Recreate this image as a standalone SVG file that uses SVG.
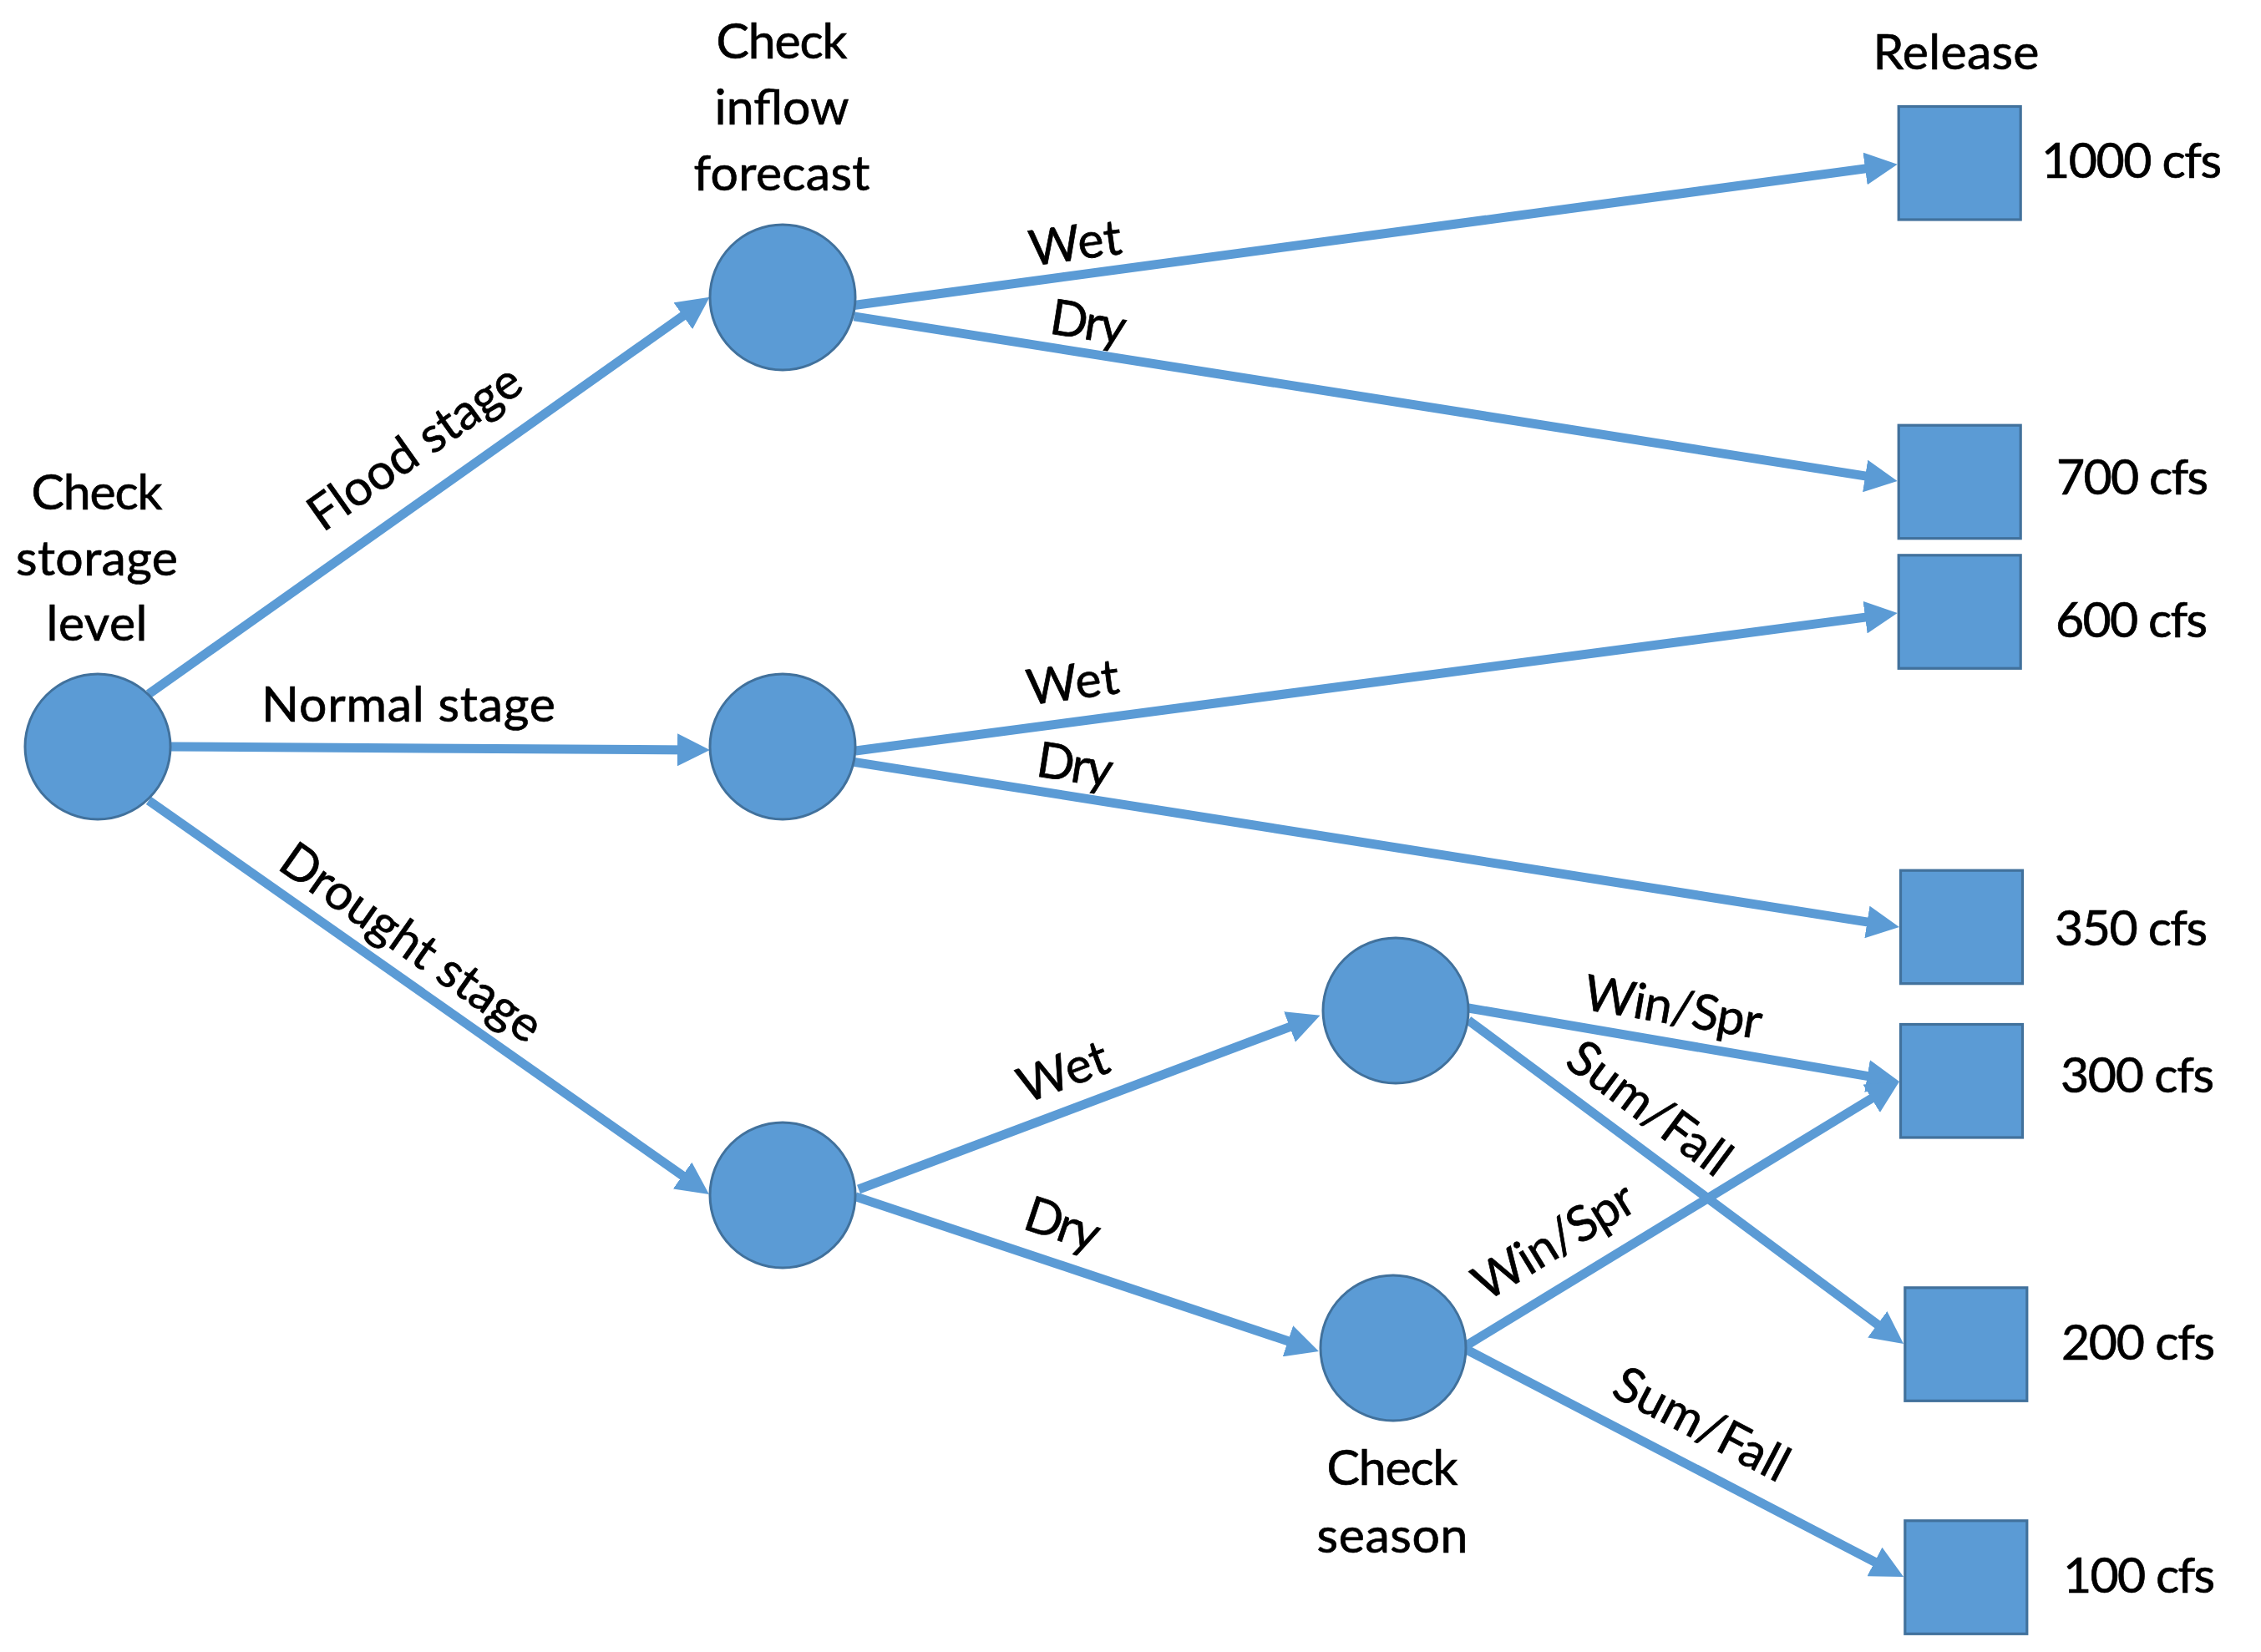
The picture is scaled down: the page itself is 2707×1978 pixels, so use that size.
<svg xmlns="http://www.w3.org/2000/svg" width="2707" height="1978" viewBox="0 0 2707 1978">
<style>
.edge{stroke:#5B9BD5;stroke-width:11;fill:none;marker-end:url(#arr)}
.chance{fill:#5B9BD5;stroke:#41719C;stroke-width:3}
.rel{fill:#5B9BD5;stroke:#41719C;stroke-width:3.2}
text{font-family:Lato,"Liberation Sans",sans-serif;font-size:59px;fill:#000;stroke:#000;stroke-width:0.7}
.m{text-anchor:middle}
</style>
<defs>
<marker id="arr" markerUnits="userSpaceOnUse" markerWidth="39" markerHeight="39" refX="19" refY="19.5" orient="auto" viewBox="0 0 39 39">
<path d="M0,0 L39,19.5 L0,39 Z" fill="#5B9BD5"/>
</marker>
</defs>
<rect width="2707" height="1978" fill="#FFFFFF"/>
<g id="connectors">
<line class="edge" x1="178" y1="831" x2="833.3" y2="367.3"/>
<line class="edge" x1="205" y1="894" x2="830" y2="897.9"/>
<line class="edge" x1="178" y1="958.5" x2="832.6" y2="1418.5"/>
<line class="edge" x1="1022.5" y1="365.5" x2="2251.9" y2="199.4"/>
<line class="edge" x1="1022.5" y1="378.9" x2="2251.9" y2="572.9"/>
<line class="edge" x1="1024.4" y1="899" x2="2251.9" y2="736.6"/>
<line class="edge" x1="1022.5" y1="912.4" x2="2254.2" y2="1106.9"/>
<line class="edge" x1="1028" y1="1424" x2="1561.8" y2="1222.8"/>
<line class="edge" x1="1024" y1="1432.6" x2="1560" y2="1611.7"/>
<line class="edge" x1="1758" y1="1207" x2="2254.3" y2="1291.6"/>
<line class="edge" x1="1758" y1="1221.6" x2="2263" y2="1597.1"/>
<line class="edge" x1="1754" y1="1612" x2="2256.9" y2="1305.4"/>
<line class="edge" x1="1754" y1="1615" x2="2261.3" y2="1878.8"/>
<text class="m" x="489" y="864" textLength="352">Normal stage</text>
<text class="m" transform="translate(508,552) rotate(-35.3)" textLength="298">Flood stage</text>
<text class="m" transform="translate(481,1145) rotate(35.1)" textLength="368">Drought stage</text>
<text class="m" transform="translate(1290,311) rotate(-7.7)" textLength="111">Wet</text>
<text class="m" transform="translate(1300,406) rotate(9)" textLength="91">Dry</text>
<text class="m" transform="translate(1287,837) rotate(-7.5)" textLength="111">Wet</text>
<text class="m" transform="translate(1284,936) rotate(9)" textLength="91">Dry</text>
<text class="m" transform="translate(1280,1302) rotate(-20.6)" textLength="111">Wet</text>
<text class="m" transform="translate(1266,1485) rotate(18.5)" textLength="91">Dry</text>
<text class="m" transform="translate(2000,1226) rotate(9.7)" textLength="215">Win/Spr</text>
<text class="m" transform="translate(1963,1343) rotate(36.6)" textLength="228">Sum/Fall</text>
<text class="m" transform="translate(1871,1503) rotate(-31.4)" textLength="215">Win/Spr</text>
<text class="m" transform="translate(2028,1723) rotate(27.5)" textLength="228">Sum/Fall</text>
</g>
<g id="n-root">
<circle class="chance" cx="117" cy="894" r="87"/>
<text class="m" x="116" y="610" textLength="157">Check</text>
<text class="m" x="116" y="689" textLength="194">storage</text>
<text class="m" x="116" y="767" textLength="121">level</text>
</g>
<g id="n-flood">
<circle class="chance" cx="937" cy="356" r="87"/>
<text class="m" x="936" y="70" textLength="157">Check</text>
<text class="m" x="936" y="149" textLength="161">inflow</text>
<text class="m" x="936" y="228" textLength="211">forecast</text>
</g>
<g id="n-normal">
<circle class="chance" cx="937" cy="894" r="87"/>
</g>
<g id="n-drought">
<circle class="chance" cx="937" cy="1431" r="87"/>
</g>
<g id="n-wet-season">
<circle class="chance" cx="1671" cy="1210" r="87"/>
</g>
<g id="n-dry-season">
<circle class="chance" cx="1668" cy="1614" r="87"/>
<text class="m" x="1667" y="1778" textLength="157">Check</text>
<text class="m" x="1667" y="1859" textLength="181">season</text>
</g>
<g id="release-header">
<text class="m" x="2342" y="83" textLength="199">Release</text>
</g>
<g id="r-1000">
<rect class="rel" x="2273.2" y="127.5" width="146" height="135.5"/>
<text x="2444" y="213" textLength="216">1000 cfs</text>
</g>
<g id="r-700">
<rect class="rel" x="2273.2" y="509.2" width="146" height="135.5"/>
<text x="2462" y="592" textLength="182">700 cfs</text>
</g>
<g id="r-600">
<rect class="rel" x="2273.2" y="664.8" width="146" height="135.5"/>
<text x="2461" y="763" textLength="182">600 cfs</text>
</g>
<g id="r-350">
<rect class="rel" x="2275.5" y="1042.2" width="146" height="135.5"/>
<text x="2460" y="1132" textLength="183">350 cfs</text>
</g>
<g id="r-300">
<rect class="rel" x="2275.5" y="1226.5" width="146" height="135.5"/>
<text x="2467" y="1308" textLength="184">300 cfs</text>
</g>
<g id="r-200">
<rect class="rel" x="2280.8" y="1541.8" width="146" height="135.5"/>
<text x="2468" y="1628" textLength="184">200 cfs</text>
</g>
<g id="r-100">
<rect class="rel" x="2280.8" y="1820.8" width="146" height="135.5"/>
<text x="2470" y="1907" textLength="182">100 cfs</text>
</g>
</svg>
